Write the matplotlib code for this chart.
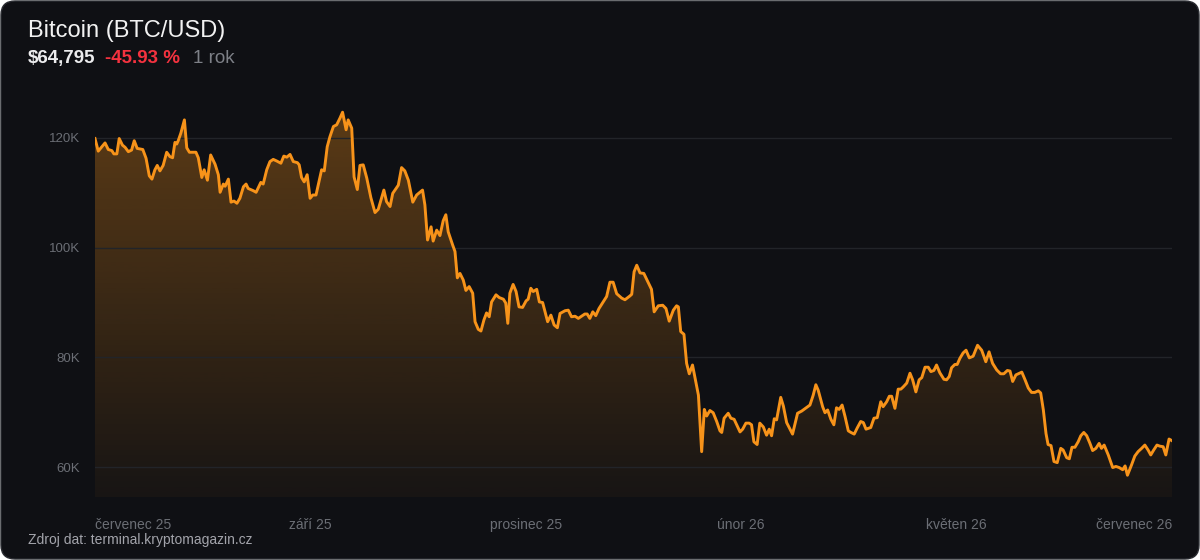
import matplotlib
matplotlib.use('Agg')
import matplotlib.pyplot as plt
import numpy as np
from matplotlib.patches import FancyBboxPatch
from matplotlib.transforms import IdentityTransform
from matplotlib.colors import to_rgb

# days since start of the 1-year window, BTC price in thousands of USD
days = [0, 1.1, 3.4, 4.5, 5.7, 6.4, 7.4, 8.2, 9.3, 10.2, 11.3, 12.4, 13.3, 14.3, 16.2, 17.3, 18.4,
        19.3, 20.3, 21.1, 22.0, 23.1, 24.3, 25.4, 26.3, 27.1, 27.7, 28.2, 29.1, 30.3, 31.1, 32.0,
        34.2, 35.0, 36.2, 37.0, 38.1, 39.2, 40.7, 41.8, 42.4, 43.5, 44.1, 45.2, 46.1, 47.1, 48.1,
        49.1, 50.3, 51.2, 51.9, 53.6, 54.6, 56.2, 57.0, 58.2, 59.3, 60.4, 61.6, 63.0, 64.0, 65.0,
        66.1, 67.2, 68.6, 69.2, 70.0, 70.9, 71.9, 72.9, 73.8, 74.9, 76.8, 77.7, 78.7, 79.6, 80.8,
        81.9, 83.0, 83.9, 85.1, 85.8, 87.0, 87.8, 88.9, 89.8, 90.9, 92.1, 93.5, 94.9, 96.0, 97.9,
        98.8, 100.0, 100.9, 102.8, 103.9, 105.0, 106.2, 107.7, 109.0, 111.0, 111.8, 112.7, 113.9,
        114.6, 115.8, 116.9, 118.0, 118.9, 119.7, 121.2, 122.0, 122.8, 123.7, 124.8, 125.7, 126.8,
        128.0, 128.8, 129.9, 130.8, 131.8, 132.7, 133.6, 134.4, 135.9, 137.0, 138.4, 139.2, 139.9,
        140.6, 141.7, 142.7, 143.7, 144.9, 146.1, 146.8, 147.7, 148.5, 149.7, 150.6, 151.7, 153.4,
        154.5, 155.6, 156.7, 157.6, 159.3, 160.4, 161.5, 162.7, 163.8, 164.9, 166.0, 166.8, 167.7,
        168.7, 169.7, 170.8, 172.2, 173.4, 174.5, 175.6, 176.8, 178.5, 179.6, 181.3, 181.9, 182.7,
        183.6, 184.7, 186.0, 187.5, 188.6, 189.5, 190.9, 192.4, 193.5, 194.6, 196.0, 197.1, 197.7,
        198.5, 199.6, 200.5, 201.4, 202.5, 203.7, 204.5, 205.6, 206.5, 207.3, 208.4, 209.5, 210.7,
        211.8, 212.4, 213.2, 214.6, 215.5, 216.6, 218.6, 219.5, 220.6, 221.7, 222.5, 223.3, 224.4,
        225.3, 226.5, 227.6, 228.5, 229.3, 230.2, 231.0, 232.4, 233.3, 234.4, 236.4, 238.1, 239.5,
        242.3, 243.4, 244.3, 245.1, 246.6, 247.4, 248.3, 249.4, 250.4, 251.3, 252.2, 253.2, 254.2,
        255.3, 256.2, 257.3, 258.3, 259.5, 260.4, 261.3, 262.9, 264.0, 265.1, 266.3, 267.1, 268.3,
        269.2, 270.0, 271.1, 272.2, 273.1, 273.9, 275.1, 276.2, 277.1, 278.2, 279.3, 280.2, 281.3,
        282.4, 283.3, 284.3, 285.2, 286.3, 287.7, 288.6, 289.5, 290.3, 291.4, 292.2, 293.1, 294.2,
        295.2, 296.3, 297.6, 299.1, 300.5, 301.9, 303.0, 304.2, 305.6, 306.9, 308.0, 309.2, 310.1,
        311.0, 312.1, 314.1, 315.2, 316.3, 317.4, 318.5, 319.7, 320.5, 321.4, 322.3, 323.0, 324.0,
        325.0, 326.1, 327.3, 328.1, 329.3, 330.2, 331.1, 332.1, 333.2, 334.1, 335.1, 336.1, 337.2,
        338.1, 339.2, 340.3, 341.1, 342.0, 343.4, 344.9, 346.0, 347.1, 348.3, 349.1, 349.9, 351.3,
        352.4, 353.5, 354.7, 355.8, 356.9, 357.8, 358.8, 359.9, 360.9, 362.0, 362.9, 364.0, 365.0]

price_k = [119.9, 117.6, 119.1, 117.9, 117.7, 117.1, 117.1, 119.9, 118.7, 118.3, 117.5, 117.8, 119.5,
           118.1, 117.9, 116.3, 113.1, 112.5, 114.2, 115.0, 114.0, 115.0, 117.4, 116.6, 116.4, 119.2,
           118.9, 119.5, 120.9, 123.3, 118.2, 117.4, 117.4, 116.4, 112.8, 114.2, 112.3, 116.9, 115.2,
           113.3, 110.1, 111.6, 111.2, 112.5, 108.3, 108.5, 108.1, 109.0, 111.1, 111.6, 110.8, 110.4,
           110.1, 111.9, 111.6, 114.2, 115.7, 116.1, 115.8, 115.4, 116.7, 116.5, 117.0, 115.7, 115.5,
           115.1, 112.8, 112.0, 113.3, 109.0, 109.6, 109.6, 114.2, 114.0, 118.4, 120.2, 122.1, 122.4,
           123.6, 124.7, 121.5, 123.3, 121.8, 112.9, 110.6, 115.0, 115.1, 112.7, 109.1, 106.4, 107.0,
           110.5, 108.4, 107.5, 109.9, 111.4, 114.6, 114.0, 112.3, 108.3, 109.6, 110.5, 107.8, 101.4,
           103.8, 101.2, 103.2, 102.2, 104.9, 106.0, 102.9, 100.5, 99.3, 94.5, 95.3, 94.1, 92.2, 92.9,
           91.7, 86.5, 85.1, 84.8, 86.8, 88.1, 87.4, 90.1, 91.4, 90.9, 90.6, 89.9, 86.2, 91.7, 93.3,
           92.0, 89.2, 89.1, 90.3, 90.6, 92.6, 92.0, 92.4, 90.1, 90.0, 86.5, 87.7, 85.9, 85.4, 88.0,
           88.5, 88.6, 87.4, 87.5, 87.1, 87.5, 87.9, 87.9, 87.1, 88.3, 87.6, 88.9, 90.1, 91.1, 93.7,
           93.7, 91.6, 90.8, 90.5, 91.2, 91.5, 95.6, 96.8, 95.4, 95.3, 93.6, 92.4, 88.3, 89.4, 89.5,
           88.9, 86.6, 88.6, 89.4, 89.2, 84.7, 84.2, 78.9, 77.0, 78.6, 75.3, 73.1, 62.8, 70.5, 69.3,
           70.3, 69.9, 68.3, 66.6, 66.3, 68.9, 69.8, 68.9, 68.7, 66.4, 66.9, 68.0, 68.0, 67.7, 64.6,
           64.1, 68.0, 67.3, 65.8, 66.9, 65.7, 68.8, 68.6, 72.7, 71.1, 68.1, 66.0, 69.8, 70.2, 71.3,
           73.1, 75.0, 74.0, 71.0, 69.9, 70.4, 68.7, 67.7, 70.8, 70.5, 71.3, 69.2, 66.6, 66.3, 66.0,
           67.1, 68.3, 68.1, 66.9, 67.2, 68.9, 69.0, 71.9, 71.0, 71.9, 72.9, 72.9, 70.7, 74.2, 74.2,
           74.6, 75.3, 77.1, 75.9, 73.7, 75.9, 76.3, 78.2, 78.2, 77.4, 77.6, 78.6, 77.2, 76.0, 75.9,
           76.5, 78.1, 78.7, 78.7, 79.8, 80.8, 81.3, 79.9, 80.2, 82.2, 81.3, 79.2, 81.0, 78.9, 77.7,
           77.0, 77.0, 77.6, 77.5, 75.6, 76.8, 77.3, 75.9, 74.4, 73.6, 73.6, 73.9, 73.5, 70.4, 66.1,
           64.1, 63.9, 61.0, 60.8, 63.4, 63.1, 61.7, 61.5, 63.6, 63.6, 64.6, 65.7, 66.3, 65.7, 64.3,
           63.0, 63.4, 64.3, 63.4, 64.0, 62.2, 59.9, 60.1, 59.9, 59.5, 60.2, 58.5, 60.4, 62.0, 62.8,
           63.4, 64.0, 63.1, 62.2, 63.1, 64.0, 63.8, 63.7, 62.2, 65.1, 64.795]

tick_days = [0, 73, 146, 219, 292, 365]
tick_labels = ['červenec 25', 'září 25', 'prosinec 25', 'únor 26', 'květen 26', 'červenec 26']
y_ticks = [60, 80, 100, 120]
y_labels = ['60K', '80K', '100K', '120K']

plt.rcParams['font.family'] = ['Liberation Sans', 'DejaVu Sans']

W, H = 1200, 560
fig = plt.figure(figsize=(12, 5.6), dpi=100)
fig.patch.set_facecolor('white')

panel = FancyBboxPatch((1, 1), W - 2, H - 2, boxstyle='round,pad=0,rounding_size=14',
                       transform=IdentityTransform(), fc='#0f1014', ec='#2a2c31', lw=1,
                       zorder=-10)
fig.patches.append(panel)

ymin, ymax = 54.53, 127.84
ax = fig.add_axes([95 / W, 63 / H, 1077 / W, 402 / H])
ax.set_facecolor('none')
ax.set_xlim(0, 365)
ax.set_ylim(ymin, ymax)

orange = '#f7931a'
# gradient fill under the line
rgb = to_rgb(orange)
grad = np.zeros((256, 1, 4))
grad[:, 0, :3] = rgb
grad[:, 0, 3] = np.linspace(0.04, 0.34, 256)
fill = ax.fill_between(days, price_k, ymin, facecolor='none', edgecolor='none')
im = ax.imshow(grad, extent=[0, 365, ymin, ymax], origin='lower', aspect='auto', zorder=1)
im.set_clip_path(fill.get_paths()[0], ax.transData)

ax.plot(days, price_k, color=orange, lw=2.1, solid_joinstyle='round', zorder=3)

ax.set_yticks(y_ticks, y_labels)
ax.set_xticks(tick_days, tick_labels)
ax.grid(axis='y', color='#222429', lw=1, zorder=0)
ax.tick_params(length=0, colors='#6b6e75')
ax.tick_params(axis='y', labelsize=9.5, pad=11)
ax.tick_params(axis='x', labelsize=10, pad=15)
xl = ax.get_xticklabels()
xl[0].set_ha('left')
xl[-1].set_ha('right')
for s in ax.spines.values():
    s.set_visible(False)

def px(x, y):
    return x / W, 1 - y / H

fig.text(*px(28, 37), 'Bitcoin (BTC/USD)', color='#f2f2f2', fontsize=17, va='baseline')
fig.text(*px(28, 63), '$64,795', color='#ececee', fontsize=13.5, fontweight='bold', va='baseline')
fig.text(*px(105, 63), '-45.93 %', color='#f4323f', fontsize=13.5, fontweight='bold',
         va='baseline')
fig.text(*px(193, 63), '1 rok', color='#7d8087', fontsize=13.5, va='baseline')
fig.text(*px(28, 544), 'Zdroj dat: terminal.kryptomagazin.cz', color='#a3a4ab', fontsize=10,
         va='baseline')

fig.savefig('out.png', dpi=100, facecolor=fig.get_facecolor())
